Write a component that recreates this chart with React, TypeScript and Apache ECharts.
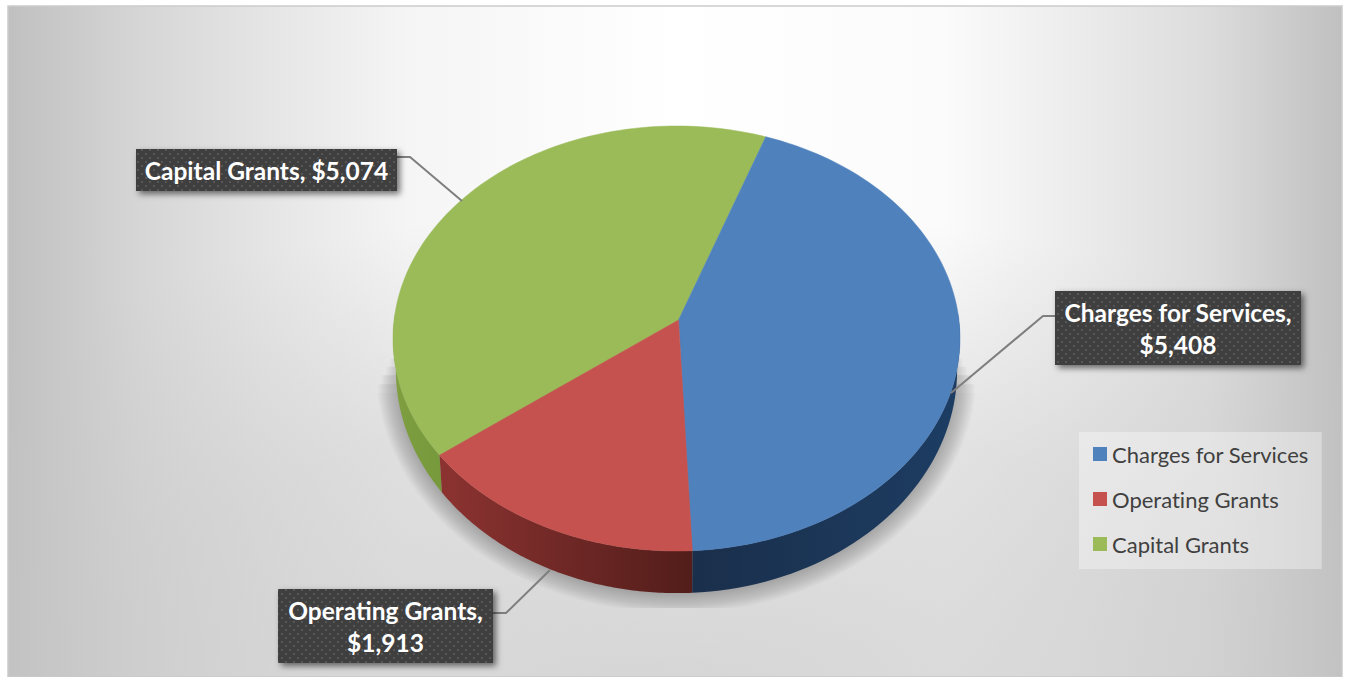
import React, { useEffect, useRef } from "react";
import * as echarts from "echarts";

const categories = ["Charges for Services", "Operating Grants", "Capital Grants"];
const amounts = [5408, 1913, 5074];
const topColors = ["#4f81bd", "#c5524f", "#9bbb59"];
const sideStops = [
  ["#1d3d63", "#1a2f4b"],
  ["#521d1a", "#8c3331"],
  ["#76993c", "#7f9f40"],
];
const total = amounts.reduce((a, b) => a + b, 0);

// Disc projection: the polar unit circle is pushed through a perspective map.
const RIM_X = 676.5;
const APEX = [678.5, 320];
const DISC_K = 282.4;
const DISC_B = 210.9;
const DISC_A = 0.087;
const MID_Y = 338.5;
const POLAR_R = 100;

const project = (u: number, v: number) => {
  const d = 1 - DISC_A * v;
  return [RIM_X + (DISC_K * u) / d, APEX[1] + (DISC_B * v) / d];
};
const lowerRim = (p: number[]) => [
  RIM_X + (p[0] - RIM_X) * 0.99,
  p[1] + 31.5 + 0.05 * (p[1] - MID_Y),
];

function sliceSeries(index: number) {
  const start = amounts.slice(0, index).reduce((a, b) => a + b, 0);
  const end = start + amounts[index];
  return {
    type: "custom",
    name: categories[index],
    coordinateSystem: "polar",
    clip: false,
    z: index === 2 ? 3 : 4,
    itemStyle: { color: topColors[index] },
    silent: true,
    encode: { radius: 0, angle: 2 },
    data: [[1, start, end]],
    renderItem: (_: any, api: any) => {
      const from = api.value(1) as number;
      const to = api.value(2) as number;
      const steps = 90;
      const rim: number[][] = [];
      const front: number[][] = [];
      const origin = api.coord([0, from]);
      for (let i = 0; i <= steps; i++) {
        const a = from + ((to - from) * i) / steps;
        const c = api.coord([1, a === total ? total - 0.001 : a]);
        const u = (c[0] - origin[0]) / POLAR_R;
        const v = (c[1] - origin[1]) / POLAR_R;
        const p = project(u, v);
        rim.push(p);
        if (v > -0.05) front.push(p);
      }
      const children: any[] = [];
      if (front.length > 1) {
        children.push({
          type: "polygon",
          shape: { points: [...front, ...front.map(lowerRim).reverse()] },
          style: {
            fill: {
              type: "linear",
              x: 0,
              y: 0,
              x2: 1,
              y2: 0,
              colorStops: [
                { offset: 0, color: sideStops[index][1] },
                { offset: 1, color: sideStops[index][0] },
              ],
            },
          },
        });
      }
      children.push({
        type: "polygon",
        shape: { points: [APEX, ...rim] },
        style: { fill: topColors[index], stroke: topColors[index], lineWidth: 0.5 },
      });
      return { type: "group", children };
    },
  };
}

// Ground shadow: stacked translucent outlines that widen away from the disc,
// flat along the floor line and fading out towards the top of the sides.
const SHADOW_LAYERS = 16;
const SHADOW_FLOOR = 608;
function shadowLayer(grow: number) {
  const pts: number[][] = [];
  const topY = 345 + grow * 2;
  for (let i = 0; i < 180; i++) {
    const t = (i / 180) * Math.PI * 2;
    const p = lowerRim(project(Math.sin(t), -Math.cos(t)));
    const x = p[0] + Math.sin(t) * grow;
    const y = p[1] - Math.cos(t) * grow;
    if (y > topY) pts.push([x, Math.min(y, SHADOW_FLOOR)]);
  }
  return pts;
}
const shadowElements = Array.from({ length: SHADOW_LAYERS }, (_, i) => ({
  type: "polygon",
  z: -5,
  silent: true,
  shape: { points: shadowLayer((i + 1) * 1.25) },
  style: { fill: "rgba(0,0,0,0.017)" },
}));

const calloutBoxes = [
  { x: 1055, y: 291, w: 246, h: 74, line: [[1055, 316], [1043, 316], [951, 393]] },
  { x: 278, y: 589, w: 215, h: 74, line: [[493, 613], [506, 613], [550, 570]] },
  { x: 136, y: 149, w: 261, h: 42, line: [[397, 157], [410, 157], [462, 201]] },
];
const calloutBreak = [true, true, false];

const money = (n: number) => "$" + n.toLocaleString("en-US");

function dotTile() {
  const c = document.createElement("canvas");
  c.width = 8;
  c.height = 8;
  const g = c.getContext("2d")!;
  g.fillStyle = "#3f3f3f";
  g.fillRect(0, 0, 8, 8);
  g.fillStyle = "#565656";
  g.fillRect(1, 1, 2, 2);
  g.fillRect(5, 5, 2, 2);
  return c.toDataURL();
}

export default function App() {
  const ref = useRef<HTMLDivElement>(null);
  useEffect(() => {
    const chart = echarts.init(ref.current!, undefined, { renderer: "svg" });
    const tile = dotTile();
    const callouts: any[] = [];
    categories.forEach((name, i) => {
      const b = calloutBoxes[i];
      const text = calloutBreak[i]
        ? `${name},\n${money(amounts[i])}`
        : `${name}, ${money(amounts[i])}`;
      callouts.push(
        {
          type: "polyline",
          z: 10,
          shape: { points: b.line },
          style: { stroke: "#7f7f7f", lineWidth: 2, fill: "none" },
        },
        {
          type: "rect",
          z: 11,
          shape: { x: b.x, y: b.y, width: b.w, height: b.h },
          style: {
            fill: "#404040",
            shadowBlur: 6,
            shadowOffsetX: 3,
            shadowOffsetY: 3,
            shadowColor: "rgba(0,0,0,0.55)",
          },
        },
        {
          type: "rect",
          z: 11,
          shape: { x: b.x, y: b.y, width: b.w, height: b.h },
          style: { fill: { image: tile, repeat: "repeat" } as any },
        },
        {
          type: "text",
          z: 12,
          x: b.x + b.w / 2,
          y: b.y + b.h / 2,
          style: {
            text,
            fill: "#ffffff",
            font: "bold 24.5px Lato",
            lineHeight: 32,
            align: "center",
            verticalAlign: "middle",
          },
        }
      );
    });

    chart.setOption({
      animation: false,
      backgroundColor: "#ffffff",
      polar: { center: [RIM_X, 338.5], radius: POLAR_R },
      angleAxis: {
        type: "value",
        min: 0,
        max: total,
        startAngle: 70,
        show: false,
      },
      radiusAxis: { type: "value", min: 0, max: 1, show: false },
      legend: {
        orient: "vertical",
        left: 1079,
        top: 432,
        icon: "rect",
        itemWidth: 14,
        itemHeight: 14,
        itemGap: 21,
        padding: [10, 13, 13, 14],
        backgroundColor: "rgba(255,255,255,0.35)",
        selectedMode: false,
        data: categories,
        textStyle: { fontFamily: "Lato", fontSize: 22, lineHeight: 24, color: "#404040" },
      },
      graphic: [
        {
          type: "rect",
          z: -10,
          silent: true,
          shape: { x: 8, y: 6, width: 1334, height: 671 },
          style: {
            fill: {
              type: "linear",
              x: 0,
              y: 0,
              x2: 1,
              y2: 0,
              colorStops: [
                { offset: 0, color: "#c0c0c0" },
                { offset: 0.1, color: "#d6d6d6" },
                { offset: 0.2, color: "#e6e6e6" },
                { offset: 0.3, color: "#f5f5f5" },
                { offset: 0.5, color: "#ffffff" },
                { offset: 0.7, color: "#fbfbfb" },
                { offset: 0.8, color: "#ececec" },
                { offset: 0.9, color: "#dcdcdc" },
                { offset: 1, color: "#c0c0c0" },
              ],
            } as any,
            stroke: "#cbcbcb",
            lineWidth: 1.5,
          },
        },
        {
          type: "rect",
          z: -9,
          silent: true,
          shape: { x: 8, y: 6, width: 1334, height: 671 },
          style: {
            fill: {
              type: "radial",
              x: 0.5,
              y: 1.05,
              r: 0.75,
              colorStops: [
                { offset: 0, color: "rgba(198,198,198,0.75)" },
                { offset: 0.6, color: "rgba(198,198,198,0.45)" },
                { offset: 1, color: "rgba(198,198,198,0)" },
              ],
            } as any,
          },
        },
        ...shadowElements,
        ...callouts,
      ],
      series: categories.map((_, i) => sliceSeries(i)),
    });
    return () => chart.dispose();
  }, []);
  return (
    <div
      ref={ref}
      style={{
        width: 1346,
        height: 677,
        position: "absolute",
        left: 0,
        top: 0,
        fontVariantLigatures: "none",
        fontFeatureSettings: '"liga" 0',
      }}
    />
  );
}
